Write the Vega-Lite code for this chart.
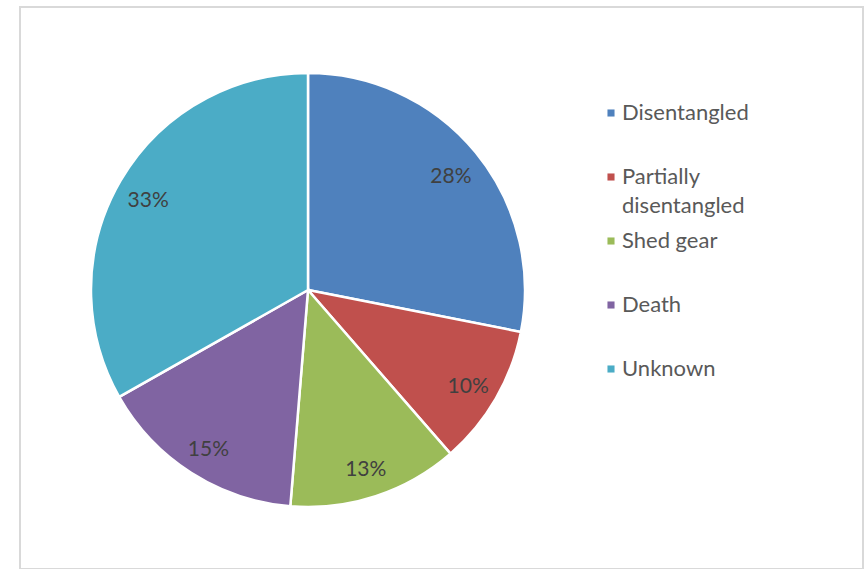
{
  "$schema": "https://vega.github.io/schema/vega-lite/v6.json",
  "autosize": "none",
  "width": 843,
  "height": 562,
  "padding": {"left": 20, "top": 7, "right": 5, "bottom": 0},
  "background": "white",
  "view": {"stroke": "#d9d9d9", "strokeWidth": 2},
  "config": {
    "view": {"stroke": "#d9d9d9", "strokeWidth": 2},
    "font": "Lato",
    "style": {"guide-label": {"lineHeight": 29}}
  },
  "data": {
    "values": [
      {"outcome": "Disentangled", "share": 28.1, "label": "28%", "order": 1},
      {"outcome": "Partially disentangled", "share": 10.5, "label": "10%", "order": 2},
      {"outcome": "Shed gear", "share": 12.7, "label": "13%", "order": 3},
      {"outcome": "Death", "share": 15.5, "label": "15%", "order": 4},
      {"outcome": "Unknown", "share": 33.2, "label": "33%", "order": 5}
    ]
  },
  "encoding": {
    "theta": {"field": "share", "type": "quantitative", "stack": true},
    "order": {"field": "order", "type": "quantitative"}
  },
  "layer": [
    {
      "mark": {"type": "arc", "outerRadius": 217, "x": 288, "y": 283, "stroke": "white", "strokeWidth": 2.5},
      "encoding": {
        "color": {
          "field": "outcome",
          "type": "nominal",
          "scale": {
            "domain": ["Disentangled", "Partially disentangled", "Shed gear", "Death", "Unknown"],
            "range": ["#4F81BD", "#C0504D", "#9BBB59", "#8064A2", "#4BACC6"]
          },
          "legend": {
            "title": null,
            "orient": "none",
            "legendX": 580,
            "legendY": 95,
            "padding": 0,
            "gridAlign": "all",
            "symbolType": "square",
            "symbolSize": 50,
            "symbolStrokeWidth": 0,
            "labelFontSize": 22,
            "labelColor": "#595959",
            "labelOffset": 0,
            "labelLimit": 300,
            "rowPadding": 13,
            "labelExpr": "datum.label == 'Partially disentangled' ? ['Partially', 'disentangled'] : datum.label",
            "encode": {"labels": {"enter": {"lineHeight": {"value": 29}}, "update": {"lineHeight": {"value": 29}}}}
          }
        }
      }
    },
    {
      "mark": {"type": "text", "radius": 185, "x": 288, "y": 283, "dy": 4, "fontSize": 21, "fill": "#404040"},
      "encoding": {
        "text": {"field": "label", "type": "nominal"}
      }
    }
  ]
}
